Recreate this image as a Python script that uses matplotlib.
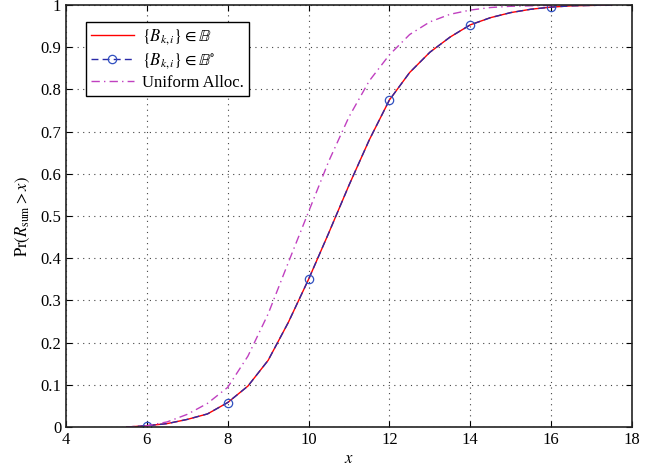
import matplotlib
matplotlib.use("Agg")
import matplotlib.pyplot as plt
import numpy as np

plt.rcParams['font.family'] = ['Liberation Serif', 'DejaVu Serif']
plt.rcParams['mathtext.fontset'] = 'stix'

x_vals = [5.5, 6, 6.5, 7, 7.5, 8, 8.5, 9, 9.5, 10, 10.5, 11, 11.5, 12, 12.5,
          13, 13.5, 14, 14.5, 15, 15.5, 16, 16.5, 17, 17.5]
bk_vals = [0.0, 0.003, 0.008, 0.018, 0.031, 0.058, 0.097, 0.158, 0.248, 0.35,
           0.46, 0.573, 0.68, 0.775, 0.840, 0.888, 0.924, 0.953, 0.97, 0.982,
           0.99, 0.995, 0.998, 0.999, 1.0]
bko_vals = [0.0, 0.003, 0.008, 0.018, 0.031, 0.058, 0.097, 0.158, 0.248, 0.35,
            0.46, 0.573, 0.68, 0.775, 0.840, 0.888, 0.924, 0.953, 0.97, 0.982,
            0.99, 0.995, 0.998, 0.999, 1.0]
uni_vals = [0.0, 0.003, 0.012, 0.03, 0.056, 0.094, 0.168, 0.268, 0.39, 0.51,
            0.63, 0.735, 0.82, 0.882, 0.93, 0.96, 0.978, 0.988, 0.994, 0.997,
            0.998, 0.999, 1.0, 1.0, 1.0]

xticks = [4, 6, 8, 10, 12, 14, 16, 18]
yticks = [0, 0.1, 0.2, 0.3, 0.4, 0.5, 0.6, 0.7, 0.8, 0.9, 1]
ytick_labels = ['0', '0.1', '0.2', '0.3', '0.4', '0.5', '0.6', '0.7', '0.8', '0.9', '1']

fig = plt.figure(figsize=(6.62, 4.67), dpi=100)
ax = fig.add_axes([66/662, 1-427/467, (632-66)/662, (427-5)/467])

ax.plot(x_vals, bk_vals, '-', color='#ff0000', lw=1.0, label=r'$\{B_{k,i}\} \in \mathbb{B}$')
ax.plot(x_vals, bko_vals, color='#2a2aa8', lw=1.0, linestyle=(0, (5, 3)), marker='o', markersize=6,
        markerfacecolor='none', markeredgecolor='#3050c0', markeredgewidth=0.9,
        markevery=(1, 4), label=r'$\{B_{k,i}\} \in \mathbb{B}^{\circ}$')
ax.plot(x_vals, uni_vals, color='#c040c0', lw=1.0, linestyle=(0, (6, 3, 1, 3)),
        label='Uniform Alloc.')

ax.set_xlim(4, 18)
ax.set_ylim(0, 1)
ax.set_xticks(xticks)
ax.set_yticks(yticks)
ax.set_yticklabels(ytick_labels)
ax.tick_params(direction='in', top=True, right=True, labelsize=12, length=4, width=0.8)
ax.grid(True, linestyle=(0, (1, 4)), color='#444444', lw=0.8)
for s in ax.spines.values():
    s.set_linewidth(1.2)
    s.set_color('#222222')

ax.set_xlabel(r'$x$', fontsize=12, labelpad=2)
ax.set_ylabel(r'$\mathrm{Pr}(R_{\mathrm{sum}} > x)$', fontsize=12, labelpad=6)

leg = ax.legend(loc='upper left', bbox_to_anchor=(0.035, 0.96), fontsize=12,
                fancybox=False, edgecolor='black', framealpha=1,
                handlelength=2.6, borderpad=0.3, labelspacing=0.25, handletextpad=0.5,
                borderaxespad=0)
leg.get_frame().set_linewidth(1.0)

fig.savefig('out.png', dpi=100)
